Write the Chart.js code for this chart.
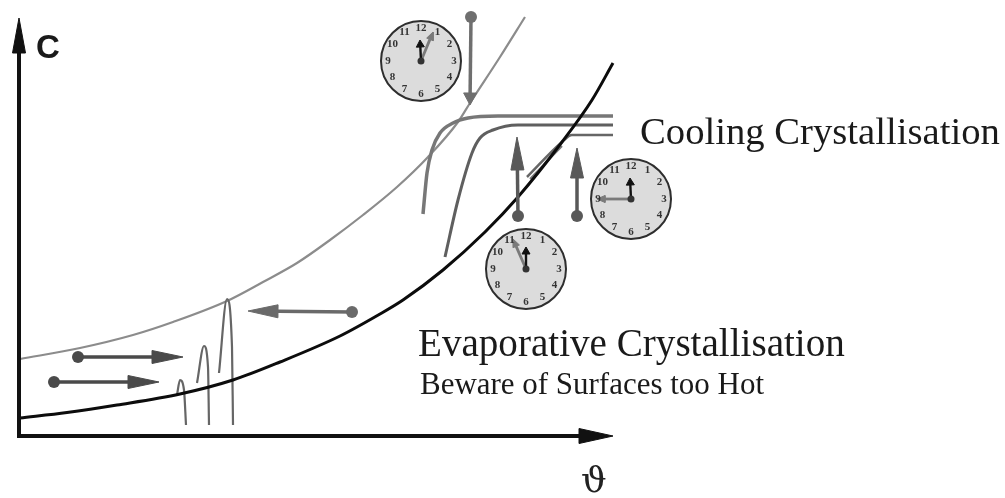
<!DOCTYPE html>
<html><head><meta charset="utf-8">
<style>html,body{margin:0;padding:0;background:#fff}#w{width:1005px;height:498px}canvas{filter:blur(0.5px)}</style>
<script src="https://cdn.jsdelivr.net/npm/chart.js@4"></script>
</head><body><div id="w"><canvas id="c" width="1005" height="498"></canvas></div>
<script>
const solubilityCurve=[[20,418],[67,412.5],[117,405],[180,394],[233,380],[280,362],[340,336],[380,314],[403,300],[443,270],[485,232],[518,197],[562,142],[592,100],[613,63]];
const metastableCurve=[[20,359],[80,348],[133,335],[173,322],[227,301],[263,282],[297,263],[330,240],[363,215],[397,187],[428,157],[458,122],[470,103],[500,57],[525,17]];
const coolingA=[[423,214],[427,173],[432,150],[440,133],[453,123],[468,118],[498,116],[613,116]];
const coolingB=[[445,257],[458,200],[472,153],[480,138],[493,130],[518,125],[613,125]];
const coolingC=[[527,177],[562,142],[572,135],[613,135]];
const coolingC2=[[530,179],[562,146]];
const spikes=[
 [[177,395],[180,380],[184,390],[186,425]],
 [[197,383],[204,346],[208,367],[209,425]],
 [[219,373],[227,299],[232,347],[233,425]]];
const axisX=[[17,436],[582,436]];
const axisY=[[19,438],[19,50]];
const axisHeads=[{tip:[613,436],len:34,half:7.5},{tip:[19,18],len:35,half:6.5}];
const processArrows=[
 {dot:[471,17],tip:[470,105],len:12,half:6.5,color:'#6f6f6f',w:3.5},
 {dot:[518,216],tip:[517,137],len:33,half:6.5,color:'#595959',w:3.5},
 {dot:[577,216],tip:[577,148],len:30,half:6.5,color:'#595959',w:3.5},
 {dot:[352,312],tip:[248,311],len:30,half:6.5,color:'#6a6a6a',w:3.5},
 {dot:[78,357],tip:[183,357],len:31,half:6.5,color:'#4a4a4a',w:3.5},
 {dot:[54,382],tip:[159,382],len:31,half:6.5,color:'#4a4a4a',w:3.5}];
const clockCentres=[[421,61],[631,199],[526,269]];
const hourTips=[[420,40],[630,178],[526,247]];
const minuteTips=[[433,32],[597,199],[513,239]];
const clockRadius=40;
const clockNumerals=['12','1','2','3','4','5','6','7','8','9','10','11'];
const labels=[
 {t:'C',x:36,y:58,font:'bold 33px "Liberation Sans"',c:'#1a1a1a'},
 {t:'Cooling Crystallisation',x:640,y:144,family:'"Liberation Serif"',c:'#1a1a1a',w:360},
 {t:'Evaporative Crystallisation',x:418,y:356,family:'"Liberation Serif"',c:'#1a1a1a',w:427},
 {t:'Beware of Surfaces too Hot',x:420,y:394,family:'"Liberation Serif"',c:'#1a1a1a',w:344},
 {t:'ϑ',x:581,y:492,font:'36px "DejaVu Serif"',c:'#222'}];

const pts=a=>a.map(p=>({x:p[0],y:p[1]}));
const ds=[];
function line(a,color,w,smooth){ds.push({data:pts(a),showLine:true,borderColor:color,borderWidth:w,pointRadius:0,tension:smooth?0.4:0,cubicInterpolationMode:smooth?'monotone':'default',fill:false,borderCapStyle:'butt'});}
function poly(a,color){ds.push({data:pts(a.concat([a[0]])),showLine:true,borderColor:color,borderWidth:1,backgroundColor:color,pointRadius:0,fill:'shape',tension:0});}
function dot(p,r,fill,border,bw){ds.push({data:pts([p]),showLine:false,pointRadius:r,pointBackgroundColor:fill,pointBorderColor:border,pointBorderWidth:bw||0});}
function head(from,tip,len,half,color){
 const dx=tip[0]-from[0],dy=tip[1]-from[1],L=Math.hypot(dx,dy),ux=dx/L,uy=dy/L;
 const b=[tip[0]-ux*len,tip[1]-uy*len];
 poly([tip,[b[0]-uy*half,b[1]+ux*half],[b[0]+uy*half,b[1]-ux*half]],color);
 return b;
}
clockCentres.forEach(c=>dot(c,clockRadius,'#dcdcdc','#2e2e2e',2));
line(metastableCurve,'#8c8c8c',2.2,true);
line(coolingA,'#777',3.5,true);
line(coolingB,'#5f5f5f',3,true);
line(coolingC,'#666',2.5,true);
line(coolingC2,'#777',2,false);
spikes.forEach(s=>line(s,'#666',2.2,true));
line(solubilityCurve,'#0c0c0c',3,true);
processArrows.forEach(a=>{
 const b=head(a.dot,a.tip,a.len,a.half,a.color);
 line([a.dot,b],a.color,a.w);
 dot(a.dot,6,a.color,a.color,0);
});
line(axisX,'#111',4);line(axisY,'#111',4);
head(axisX[0],axisHeads[0].tip,axisHeads[0].len,axisHeads[0].half,'#111');
head(axisY[0],axisHeads[1].tip,axisHeads[1].len,axisHeads[1].half,'#111');
clockCentres.forEach((c,i)=>{
 const b=head(c,minuteTips[i],8,3.5,'#7a7a7a');
 line([c,b],'#7a7a7a',2.8);
 const h=head(c,hourTips[i],7,4,'#111');
 line([c,h],'#111',2.4);
 dot(c,3.5,'#333','#333',0);
});
ds.forEach((d,i)=>{d.order=ds.length-i;});

const textPlugin={id:'texts',afterDatasetsDraw(ch){
 const g=ch.ctx,X=ch.scales.x,Y=ch.scales.y;
 g.save();g.textBaseline='alphabetic';g.textAlign='left';
 labels.forEach(l=>{
  if(l.w){g.font='100px '+l.family;const s=100*l.w/g.measureText(l.t).width;g.font=s.toFixed(2)+'px '+l.family;}
  else g.font=l.font;
  g.fillStyle=l.c;
  g.fillText(l.t,X.getPixelForValue(l.x),Y.getPixelForValue(l.y));});
 g.font='bold 11px "Liberation Serif"';g.fillStyle='#333';g.textAlign='center';g.textBaseline='middle';
 clockCentres.forEach(c=>{clockNumerals.forEach((n,k)=>{
  const ang=k*Math.PI/6,r=33;
  g.fillText(n,X.getPixelForValue(c[0]+r*Math.sin(ang)),Y.getPixelForValue(c[1]-r*Math.cos(ang)));
 });});
 g.restore();
}};
new Chart(document.getElementById('c'),{type:'scatter',data:{datasets:ds},plugins:[textPlugin],options:{
 responsive:false,animation:false,layout:{padding:0,autoPadding:false},
 clip:false,
 plugins:{legend:{display:false},tooltip:{enabled:false}},
 scales:{x:{type:'linear',min:0,max:1005,display:false},y:{type:'linear',min:0,max:498,reverse:true,display:false}}
}});
</script></body></html>
